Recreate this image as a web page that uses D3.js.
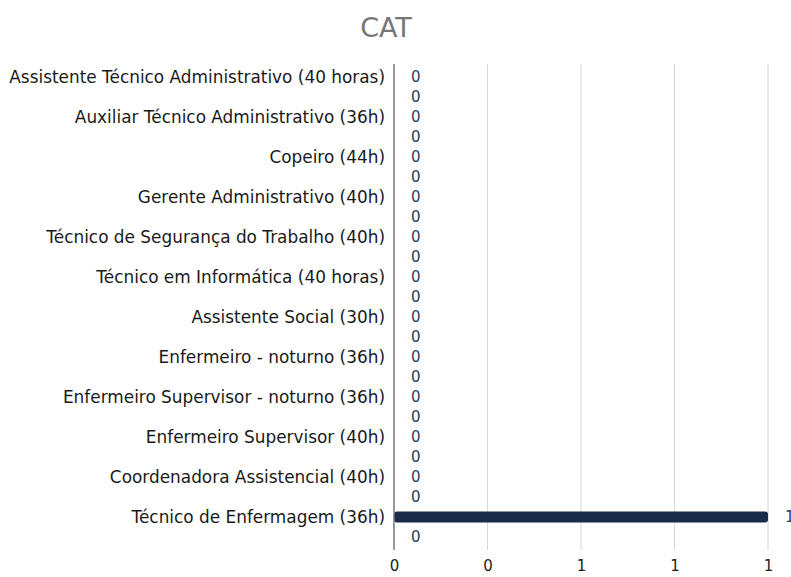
<!DOCTYPE html>
<html>
<head>
<meta charset="utf-8">
<script src="https://cdn.jsdelivr.net/npm/d3@7"></script>
<style>
  body { margin: 0; background: #fff; }
  text { font-family: "DejaVu Sans", sans-serif; }
</style>
</head>
<body>
<script>
// data
const categories = [
  "Assistente Técnico Administrativo (40 horas)",
  "Auxiliar Técnico Administrativo (36h)",
  "Copeiro (44h)",
  "Gerente Administrativo (40h)",
  "Técnico de Segurança do Trabalho (40h)",
  "Técnico em Informática (40 horas)",
  "Assistente Social (30h)",
  "Enfermeiro - noturno (36h)",
  "Enfermeiro Supervisor - noturno (36h)",
  "Enfermeiro Supervisor (40h)",
  "Coordenadora Assistencial (40h)",
  "Técnico de Enfermagem (36h)"
];
const valuesPrimary   = [0, 0, 0, 0, 0, 0, 0, 0, 0, 0, 0, 1];
const valuesSecondary = [0, 0, 0, 0, 0, 0, 0, 0, 0, 0, 0, 0];
const seriesKeys = ["primary", "secondary"];
const xTicks = [0, 0.25, 0.5, 0.75, 1];

const width = 791, height = 577;
const margin = {top: 67, right: 23, bottom: 30, left: 394};

const svg = d3.select("body").append("svg")
  .attr("width", width)
  .attr("height", height);

svg.append("text")
  .attr("x", 386)
  .attr("y", 37)
  .attr("text-anchor", "middle")
  .attr("font-size", 27)
  .attr("fill", "#767676")
  .text("CAT");

const rows = categories.map((c, i) => ({
  cat: c,
  primary: valuesPrimary[i],
  secondary: valuesSecondary[i]
}));

const x = d3.scaleLinear()
  .domain([0, 1])
  .range([margin.left, 768]);

const y = d3.scaleBand()
  .domain(categories)
  .range([margin.top, height - margin.bottom])
  .padding(0);

// two sub rows per category, 20px apart, bar 11px thick
const ySub = d3.scaleBand()
  .domain(seriesKeys)
  .range([0, y.bandwidth()])
  .paddingInner(0.45)
  .paddingOuter(0.225);

// grid lines
svg.append("g")
  .selectAll("line")
  .data(xTicks.slice(1))
  .enter().append("line")
  .attr("x1", d => x(d))
  .attr("x2", d => x(d))
  .attr("y1", margin.top - 3)
  .attr("y2", height - margin.bottom + 3)
  .attr("stroke", "#d6d6d6")
  .attr("stroke-width", 1);

// x axis tick labels
const xAxis = d3.axisBottom(x)
  .tickValues(xTicks)
  .tickFormat(d => Math.round(d))
  .tickSize(0)
  .tickPadding(0);

const gx = svg.append("g")
  .attr("transform", `translate(0,${height - 6})`)
  .call(xAxis);
gx.select(".domain").remove();
gx.selectAll("text")
  .attr("font-size", 15)
  .attr("fill", "#222")
  .attr("dy", "0")
  .attr("y", 0);

// bars
const group = svg.append("g")
  .selectAll("g")
  .data(rows)
  .enter().append("g")
  .attr("transform", d => `translate(0,${y(d.cat)})`);

group.selectAll("rect")
  .data(d => seriesKeys.map(k => ({key: k, value: d[k]})))
  .enter().append("rect")
  .attr("x", x(0))
  .attr("y", d => ySub(d.key))
  .attr("width", d => x(d.value) - x(0))
  .attr("height", ySub.bandwidth())
  .attr("rx", 3)
  .attr("fill", "#1b2b4a");

group.selectAll("text.val")
  .data(d => seriesKeys.map(k => ({key: k, value: d[k]})))
  .enter().append("text")
  .attr("class", "val")
  .attr("x", d => x(d.value) + 17)
  .attr("y", d => ySub(d.key) + ySub.bandwidth() / 2)
  .attr("dy", "0.36em")
  .attr("font-size", 15)
  .attr("fill", "#2a3c5c")
  .text(d => d.value);

// y axis
const yAxis = d3.axisLeft(y).tickSize(0).tickPadding(9);
const gy = svg.append("g")
  .attr("transform", `translate(${margin.left},0)`)
  .call(yAxis);
gy.select(".domain").remove();
gy.selectAll(".tick")
  .attr("transform", d => `translate(0,${y(d) + ySub(seriesKeys[0]) + ySub.bandwidth() / 2})`);
gy.selectAll("text")
  .attr("font-size", 16.9)
  .attr("fill", "#1a1a1a")
  .attr("dy", "0.35em");

svg.append("line")
  .attr("x1", margin.left)
  .attr("x2", margin.left)
  .attr("y1", margin.top - 3)
  .attr("y2", height - margin.bottom + 3)
  .attr("stroke", "#777")
  .attr("stroke-width", 1.5);
</script>
</body>
</html>
